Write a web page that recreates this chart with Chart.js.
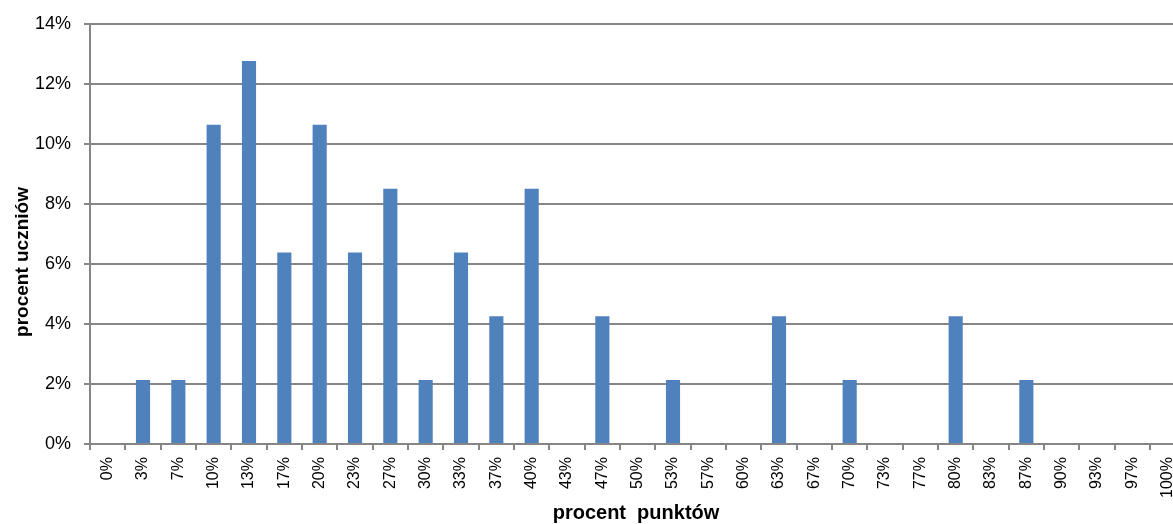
<!DOCTYPE html>
<html>
<head>
<meta charset="utf-8">
<script src="https://cdn.jsdelivr.net/npm/chart.js@4.4.1/dist/chart.umd.min.js"></script>
<style>
    html, body { margin: 0; padding: 0; background: #fff; overflow: hidden; }
    #wrap { width: 1173px; height: 524px; overflow: hidden; }
</style>
</head>
<body>
<div id="wrap"><canvas id="chart" width="1194" height="524"></canvas></div>
<script>
// percent of points scored (categories) and percent of students per category
const categories = ['0%', '3%', '7%', '10%', '13%', '17%', '20%', '23%', '27%', '30%', '33%', '37%', '40%', '43%', '47%', '50%',
    '53%', '57%', '60%', '63%', '67%', '70%', '73%', '77%', '80%', '83%', '87%', '90%', '93%', '97%', '100%'];
const studentShare = [0, 2.13, 2.13, 10.64, 12.77, 6.38, 10.64, 6.38, 8.51, 2.13, 6.38, 4.26, 8.51, 0, 4.26, 0,
    2.13, 0, 0, 4.26, 0, 2.13, 0, 0, 4.26, 0, 2.13, 0, 0, 0, 0];
const yTicks = [0, 2, 4, 6, 8, 10, 12, 14];

const xTitle = 'procent  punktów';
const yTitle = 'procent uczniów';

const gridColor = '#868686';
const barColor = '#4F81BD';
const fontFamily = '"Liberation Sans", Arial, sans-serif';

// axis titles placed where the original has them (y title sits a bit below centre)
const axisTitles = {
    id: 'axisTitles',
    afterDraw(chart) {
        const ctx = chart.ctx;
        ctx.save();
        ctx.fillStyle = '#000';
        ctx.font = 'bold 20px ' + fontFamily;
        ctx.textAlign = 'center';
        ctx.textBaseline = 'middle';
        ctx.fillText(xTitle, 636, 513);
        ctx.translate(23, 262);
        ctx.rotate(-Math.PI / 2);
        ctx.font = 'bold 19px ' + fontFamily;
        ctx.fillText(yTitle, 0, 0);
        ctx.restore();
    }
};

new Chart(document.getElementById('chart').getContext('2d'), {
    type: 'bar',
    data: {
        labels: categories,
        datasets: [{
            data: studentShare,
            backgroundColor: barColor,
            borderWidth: 0,
            barPercentage: 0.4,
            categoryPercentage: 1
        }]
    },
    options: {
        responsive: false,
        animation: false,
        layout: { padding: { top: 24, right: 7, left: 0, bottom: 0 } },
        plugins: {
            legend: { display: false },
            tooltip: { enabled: false }
        },
        scales: {
            x: {
                offset: true,
                grid: {
                    offset: true,
                    drawOnChartArea: false,
                    drawTicks: true,
                    tickLength: 6,
                    color: gridColor,
                    lineWidth: 2
                },
                border: { color: gridColor, width: 2 },
                ticks: {
                    color: '#000',
                    font: { family: fontFamily, size: 16 },
                    minRotation: 90,
                    maxRotation: 90,
                    autoSkip: false,
                    padding: 7
                },
                afterFit: (scale) => { scale.height = 80; }
            },
            y: {
                min: 0,
                max: 14,
                afterBuildTicks: (scale) => { scale.ticks = yTicks.map(v => ({ value: v })); },
                grid: {
                    color: gridColor,
                    lineWidth: 2,
                    tickLength: 6
                },
                border: { color: gridColor, width: 2 },
                ticks: {
                    color: '#000',
                    font: { family: fontFamily, size: 18 },
                    padding: 13,
                    callback: v => v + '%'
                },
                afterFit: (scale) => { scale.width = 90; }
            }
        }
    },
    plugins: [axisTitles]
});
</script>
</body>
</html>
